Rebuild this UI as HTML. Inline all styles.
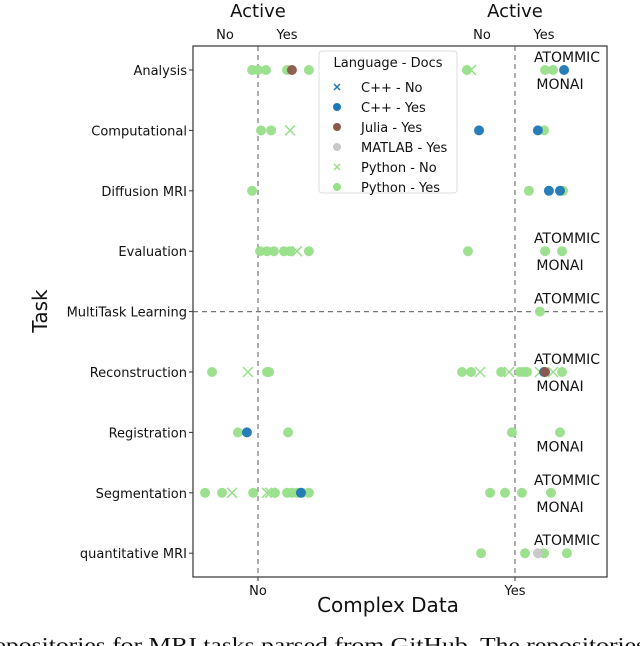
<!DOCTYPE html>
<html><head><meta charset="utf-8"><style>
body{margin:0;background:#fff;overflow:hidden;}
svg{display:block;font-family:"DejaVu Sans","Liberation Sans",sans-serif;}
</style></head><body>
<svg id="chart" width="640" height="646">
<rect x="0" y="0" width="640" height="646" fill="#fff"/>
<g id="plot"></g>
<text x="-14" y="652" font-size="21" font-family="Liberation Serif, serif" fill="#111" textLength="660" lengthAdjust="spacingAndGlyphs">repositories for MRI tasks parsed from GitHub. The repositories</text>
</svg>
<script>
const tasks=["Analysis","Computational","Diffusion MRI","Evaluation","MultiTask Learning","Reconstruction","Registration","Segmentation","quantitative MRI"];
const seriesNames=["C++ - No","C++ - Yes","Julia - Yes","MATLAB - Yes","Python - No","Python - Yes"];
// points: [taskIndex, xValue (0=No,1=Yes with jitter)]
const pythonYes=[[0,-0.023],[0,0],[0,0.031],[0,0.113],[0,0.198],[0,0.813],[0,1.117],[0,1.148],
[1,0.012],[1,0.051],[1,1.113],[2,-0.023],[2,1.054],[2,1.187],
[3,0.008],[3,0.035],[3,0.062],[3,0.101],[3,0.125],[3,0.198],[3,0.817],[3,1.117],[3,1.183],
[4,1.097],[5,-0.179],[5,0.035],[5,0.043],[5,0.794],[5,0.829],[5,0.946],[5,1.019],[5,1.035],[5,1.047],[5,1.183],
[6,-0.078],[6,0.117],[6,0.988],[6,1.175],
[7,-0.206],[7,-0.140],[7,-0.019],[7,0.066],[7,0.113],[7,0.132],[7,0.152],[7,0.171],[7,0.198],[7,0.903],[7,0.961],[7,1.027],[7,1.140],
[8,0.868],[8,1.039],[8,1.113],[8,1.202]];
const pythonNo=[[0,0.829],[1,0.125],[3,0.152],[5,-0.039],[5,0.864],[5,0.977],[5,1.097],[5,1.148],[7,-0.101],[7,0.035],[7,0.047]];
const cppYes=[[0,1.191],[1,0.86],[1,1.089],[2,1.132],[2,1.175],[5,1.113],[6,-0.043],[7,0.167]];
const juliaYes=[[0,0.132],[5,1.117]];
const matlabYes=[[8,1.089]];
const xTicks=["No","Yes"];
const topTicks=["No","Yes"];
const annotations=[[0,"ATOMMIC","MONAI"],[3,"ATOMMIC","MONAI"],[4,"ATOMMIC",""],[5,"ATOMMIC","MONAI"],[6,"","MONAI"],[7,"ATOMMIC","MONAI"],[8,"ATOMMIC",""]];

const NS="http://www.w3.org/2000/svg";
const g=document.getElementById('plot');
const L=193,R=607,T=46,B=577;
const xs=v=>258+v*257;
const ys=i=>70+i*60.4;
function el(tag,attrs,parent,text){const e=document.createElementNS(NS,tag);for(const k in attrs)e.setAttribute(k,attrs[k]);if(text!==undefined)e.textContent=text;(parent||g).appendChild(e);return e;}
function txt(x,y,s,size,anchor,name){const t=el('text',{x:x,y:y,'font-size':size,'text-anchor':anchor||'middle',fill:'#111'},g,s);return t;}

[0,1].forEach(v=>{const l=el('line',{x1:xs(v),x2:xs(v),y1:T,y2:B,stroke:'#777','stroke-dasharray':'5,4','stroke-width':1.2});

});
const hl=el('line',{x1:L,x2:R,y1:ys(4),y2:ys(4),stroke:'#777','stroke-dasharray':'5,4','stroke-width':1.2});


const fr=el('rect',{x:L,y:T,width:R-L,height:B-T,fill:'none',stroke:'#333','stroke-width':1.2});



tasks.forEach((t,i)=>{el('line',{x1:L-4,x2:L,y1:ys(i),y2:ys(i),stroke:'#333'});
txt(187,ys(i)+5,t,13,'end','y-tick-label');});
xTicks.forEach((t,i)=>{el('line',{x1:xs(i),x2:xs(i),y1:B,y2:B+4,stroke:'#333'});txt(xs(i),595,t,13,'middle','x-tick-label');});
[0,1].forEach(v=>{txt(xs(v),17,"Active",18,'middle','top-axis-title');
topTicks.forEach((t,j)=>txt(xs(v)+(j?29:-33),39,t,13,'middle','top-tick-label'));});
txt(388,612,"Complex Data",20,'middle','x-axis-title');
const yt=txt(0,0,"Task",20,'middle','y-axis-title');yt.setAttribute('transform','translate(47,311) rotate(-90)');

function dots(arr,color,name){arr.forEach(p=>{const c=el('circle',{cx:xs(p[1]),cy:ys(p[0]),r:5,fill:color,opacity:0.95});

});}
function crosses(arr,color,name){arr.forEach(p=>{const x=xs(p[1]),y=ys(p[0]);const gg=el('path',{d:`M${x-5},${y-5}L${x+5},${y+5}M${x-5},${y+5}L${x+5},${y-5}`,stroke:color,'stroke-width':1.5,fill:'none'});

});}
crosses(pythonNo,'#98df8a','point-python-no');
dots(pythonYes,'#98df8a','point-python-yes');
dots(matlabYes,'#c7c7c7','point-matlab-yes');
dots(cppYes,'#1f77b4','point-cpp-yes');
dots(juliaYes,'#8c564b','point-julia-yes');

annotations.forEach(a=>{if(a[1])txt(567,ys(a[0])-8,a[1],14,'middle','annotation-atommic');if(a[2])txt(560,ys(a[0])+19,a[2],14,'middle','annotation-monai');});

const lg=el('g',{});


el('rect',{x:319,y:51,width:138,height:142,rx:3,fill:'#fff',stroke:'#ddd','fill-opacity':0.9},lg);
el('text',{x:388,y:67,'font-size':13,'text-anchor':'middle',fill:'#111'},lg,"Language - Docs");
const lcol=['#1f77b4','#1f77b4','#8c564b','#c7c7c7','#98df8a','#98df8a'];
seriesNames.forEach((s,i)=>{const y=87+i*20;
 if(s.endsWith('No')){el('path',{d:`M334,${y-3}L340,${y+3}M334,${y+3}L340,${y-3}`,stroke:lcol[i],'stroke-width':1.5},lg);}
 else el('circle',{cx:337,cy:y,r:4,fill:lcol[i]},lg);
 const t=el('text',{x:361,y:y+5,'font-size':13,fill:'#111'},lg,s);
 
 });
g.appendChild(lg);
</script>
</body></html>
